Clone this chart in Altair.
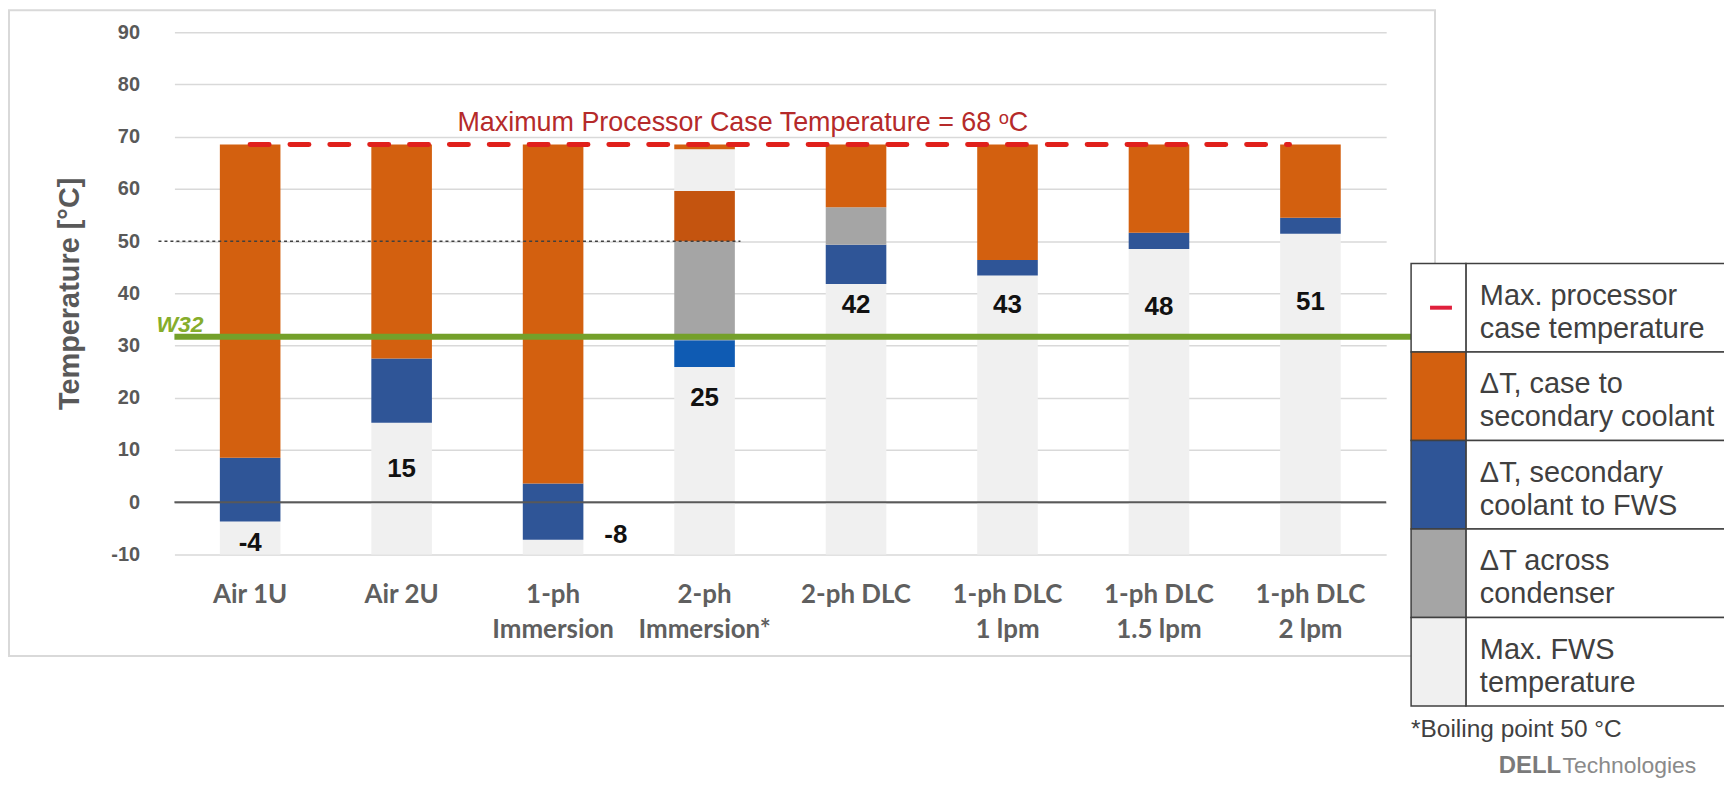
import altair as alt
import pandas as pd

# ---------------- data ----------------
categories = ["Air 1U", "Air 2U", "1-ph\nImmersion", "2-ph\nImmersion*", "2-ph DLC",
              "1-ph DLC\n1 lpm", "1-ph DLC\n1.5 lpm", "1-ph DLC\n2 lpm"]
axis_min = -10
fws_top = [-3.7, 15.2, -7.2, 25.9, 41.8, 43.4, 48.5, 51.4]          # Max. FWS temperature
secondary_top = [8.5, 27.5, 3.6, 31.0, 49.3, 46.4, 51.6, 54.5]      # dT secondary coolant to FWS
condenser_top = [None, None, None, 50.0, 56.5, None, None, None]    # dT across condenser
case_top = [68.5, 68.5, 68.5, 59.6, 68.5, 68.5, 68.5, 68.5]         # dT case to secondary coolant
headroom_top = [None, None, None, 67.6, None, None, None, None]     # light segment above (2-ph immersion)
sliver_top = [None, None, None, 68.5, None, None, None, None]       # thin orange top (2-ph immersion)

fws_labels = ["-4", "15", "-8", "25", "42", "43", "48", "51"]
label_y = [-7.8, 6.4, -6.2, 20.0, 37.7, 37.7, 37.3, 38.3]

max_case_temp = 68.5
w32_temp = 31.7
boiling_point = 50
y_ticks = [-10, 0, 10, 20, 30, 40, 50, 60, 70, 80, 90]

series_keys = ["fws", "sec", "sec_2ph", "cond", "case", "case_2ph", "none"]
series_colors = ["#f0f0f0", "#2f5597", "#0f5bb3", "#a5a5a5", "#d3600f", "#c4540f", "#ffffff"]

legend_keys = ["none", "case", "sec", "cond", "fws"]
legend_text = [["Max. processor", "case temperature"],
               ["\u0394T, case to", "secondary coolant"],
               ["\u0394T, secondary", "coolant to FWS"],
               ["\u0394T across", "condenser"],
               ["Max. FWS", "temperature"]]

# ---------------- tables ----------------
seg_rows = []
for i, cat in enumerate(categories):
    two_phase = cat.startswith("2-ph\n")
    stack = [("fws", fws_top[i]),
             ("sec_2ph" if two_phase else "sec", secondary_top[i]),
             ("cond", condenser_top[i]),
             ("case_2ph" if two_phase else "case", case_top[i]),
             ("fws", headroom_top[i]),
             ("case", sliver_top[i])]
    lo = axis_min
    for key, top in stack:
        if top is None:
            continue
        seg_rows.append({"cat": cat, "key": key, "lo": lo, "hi": top})
        lo = top
seg_df = pd.DataFrame(seg_rows)

label_df = pd.DataFrame({"cat": categories, "text": fws_labels, "y": label_y})
legend_df = pd.DataFrame({"row": list(range(5)), "r0": list(range(5)),
                          "r1": [r + 1 for r in range(5)], "rm": [r + 0.5 for r in range(5)],
                          "key": legend_keys, "text": legend_text})
one = pd.DataFrame({"a": [0]})

x_scale = alt.Scale(domain=categories, paddingInner=0.6, paddingOuter=0.3)
y_scale = alt.Scale(domain=[-10, 90], nice=False, zero=False)
color_scale = alt.Scale(domain=series_keys, range=series_colors)

GRAY = "#595959"

frame = alt.Chart(one).mark_rect(fillOpacity=0, stroke="#d9d9d9", strokeWidth=2).encode(
    x=alt.value(-166), x2=alt.value(1265), y=alt.value(-22), y2=alt.value(626))

bars = alt.Chart(seg_df).mark_bar().encode(
    x=alt.X("cat:N", scale=x_scale, sort=categories,
            axis=alt.Axis(title=None, labelExpr="split(datum.value, '\\n')", labelFont="Lato",
                          labelFontSize=26, labelFontWeight="bold", labelColor="#5f5f5f",
                          labelLineHeight=35, labelPadding=27, ticks=False, domain=False,
                          labelAngle=0, grid=False)),
    y=alt.Y("lo:Q", scale=y_scale,
            axis=alt.Axis(values=y_ticks, labelExpr="'' + datum.value", labelFont="Liberation Sans",
                          labelFontSize=20, labelFontWeight="bold", labelColor=GRAY,
                          labelPadding=35, ticks=False, domain=False, gridColor="#d9d9d9",
                          gridWidth=1.5, title="Temperature [\u00b0C]", titleFont="Liberation Sans",
                          titleFontSize=29, titleFontWeight="bold", titleColor=GRAY,
                          titleAngle=270, titleX=-105, titleY=262, titleAlign="center",
                          titleBaseline="middle")),
    y2="hi:Q",
    color=alt.Color("key:N", scale=color_scale, legend=None),
)

zero_rule = alt.Chart(one).mark_rule(color=GRAY, strokeWidth=2).encode(y=alt.datum(0))
w32_rule = alt.Chart(one).mark_rule(color="#74a02a", strokeWidth=6).encode(
    y=alt.datum(w32_temp), x=alt.value(0), x2=alt.value(1241))
boil_rule = alt.Chart(one).mark_rule(color="#404040", strokeWidth=1.5, strokeDash=[3, 3]).encode(
    y=alt.datum(boiling_point), x=alt.value(-16), x2=alt.value(568))
max_rule = alt.Chart(one).mark_rule(color="#e0201b", strokeWidth=5, strokeDash=[19, 21],
                                    strokeCap="round", x2Offset=-21).encode(
    y=alt.datum(max_case_temp), x=alt.datum(categories[0]), x2=alt.datum(categories[-1]))

main_labels = alt.Chart(label_df).transform_filter(
    alt.FieldOneOfPredicate(field="cat", oneOf=[c for c in categories if c != categories[2]])
).mark_text(font="Liberation Sans", fontSize=26, fontWeight="bold", color="#111111",
            baseline="middle").encode(x="cat:N", y="y:Q", text="text:N")
side_label = alt.Chart(label_df).transform_filter(
    alt.FieldOneOfPredicate(field="cat", oneOf=[categories[2]])
).mark_text(font="Liberation Sans", fontSize=26, fontWeight="bold", color="#111111",
            baseline="middle", dx=63).encode(x="cat:N", y="y:Q", text="text:N")

max_title = alt.Chart(one).mark_text(
    text="Maximum Processor Case Temperature = 68 \u1d52C", align="left", baseline="alphabetic",
    font="Liberation Sans", fontSize=27, color="#b52a2a", dy=-14).encode(
    x=alt.value(284), y=alt.datum(max_case_temp))
w32_text = alt.Chart(one).mark_text(
    text="W32", align="left", baseline="alphabetic", font="Liberation Sans", fontSize=23,
    fontWeight="bold", fontStyle="italic", color="#86ad2c", dy=-4.5).encode(
    x=alt.value(-18), y=alt.datum(w32_temp))

footnote = alt.Chart(one).mark_text(
    text="*Boiling point 50 \u00b0C", align="left", baseline="alphabetic", font="Liberation Sans",
    fontSize=24.5, color="#404040").encode(x=alt.value(1241), y=alt.value(707))
logo_a = alt.Chart(one).mark_text(
    text="DELL", align="left", baseline="alphabetic", font="Liberation Sans", fontSize=24,
    fontWeight="bold", color="#7a7a7a").encode(x=alt.value(1329), y=alt.value(743))
logo_b = alt.Chart(one).mark_text(
    text="Technologies", align="left", baseline="alphabetic", font="Liberation Sans", fontSize=23,
    color="#8a8a8a").encode(x=alt.value(1393), y=alt.value(743))

main = alt.layer(frame, bars, zero_rule, boil_rule, w32_rule, max_rule, main_labels, side_label,
                 max_title, w32_text, footnote, logo_a, logo_b)

leg_y = alt.Scale(domain=[0, 5], range=[232, 676])
leg_text_cells = alt.Chart(legend_df).mark_rect(fill="white", stroke="#404040", strokeWidth=1.5).encode(
    x=alt.value(1296), x2=alt.value(1570),
    y=alt.Y("r0:Q", scale=leg_y, axis=None), y2="r1:Q")
leg_swatches = alt.Chart(legend_df).mark_rect(stroke="#404040", strokeWidth=1.5).encode(
    x=alt.value(1241), x2=alt.value(1296),
    y=alt.Y("r0:Q", scale=leg_y, axis=None), y2="r1:Q",
    color=alt.Color("key:N", scale=color_scale, legend=None))
leg_symbol = alt.Chart(legend_df).transform_filter("datum.row == 0").mark_rule(
    color="#e0203c", strokeWidth=4).encode(
    x=alt.value(1260), x2=alt.value(1282), y=alt.Y("rm:Q", scale=leg_y, axis=None))
leg_labels = alt.Chart(legend_df).mark_text(
    align="left", baseline="middle", font="Liberation Sans", fontSize=29, lineHeight=33,
    color="#404040", dy=-12).encode(
    x=alt.value(1310), y=alt.Y("rm:Q", scale=leg_y, axis=None), text="text")

legend = alt.layer(leg_text_cells, leg_swatches, leg_symbol, leg_labels)

chart = alt.layer(main, legend).resolve_scale(y="independent").properties(
    width=1216, height=524,
    autosize=alt.AutoSizeParams(type="none"),
    padding={"left": 167, "top": 23, "right": 339, "bottom": 225},
).configure_view(strokeWidth=0)

chart.save("out.html", embed_options={"renderer": "svg", "actions": False})
